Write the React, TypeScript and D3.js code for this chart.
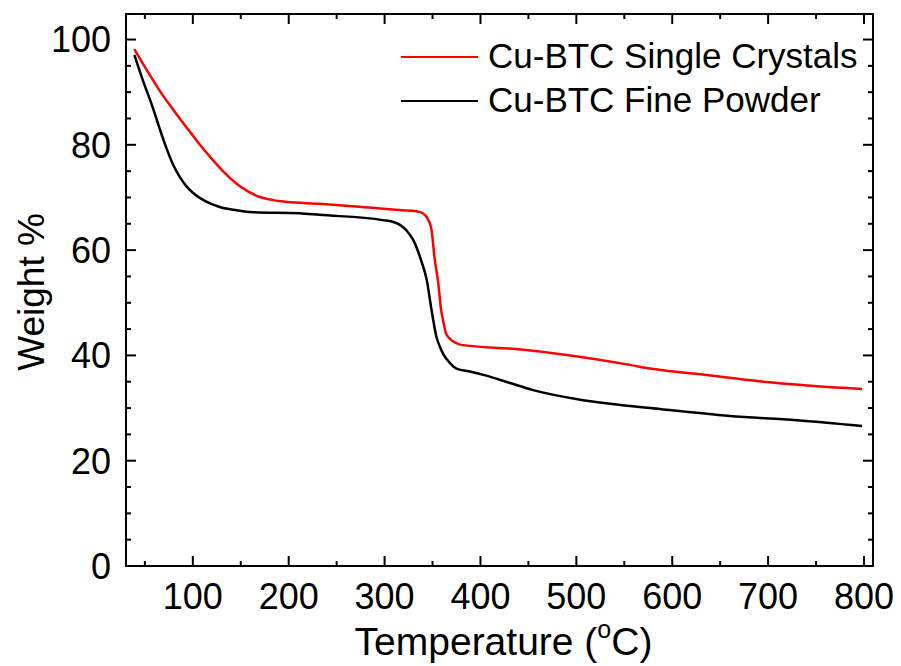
import React from "react";
import * as d3 from "d3";

const crystalT = [39, 52, 65, 79, 93, 107, 121, 133, 145, 157, 170, 184, 197, 232, 270, 316, 333, 339, 342, 346, 349, 352, 356, 359, 361, 364, 368, 374, 380, 437, 490, 556, 577, 625, 695, 798];
const crystalW = [98.2, 94.2, 90.4, 86.8, 83.4, 80.1, 77.1, 74.7, 72.7, 71.2, 70.1, 69.5, 69.2, 68.8, 68.3, 67.6, 67.4, 67.1, 66.7, 65.6, 63.8, 58.7, 53.7, 48.6, 46.7, 44.2, 43.2, 42.4, 42.0, 41.2, 40.1, 38.2, 37.5, 36.5, 35.0, 33.6];

const powderT = [39, 48, 58, 65, 72, 79, 86, 93, 100, 113, 128, 145, 163, 211, 232, 298, 310, 316, 323, 330, 338, 344, 349, 354, 358, 362, 368, 375, 390, 405, 430, 455, 507, 556, 577, 660, 730, 798];
const powderW = [97.1, 92.2, 87.2, 83.3, 79.6, 76.4, 74.0, 72.2, 70.9, 69.3, 68.2, 67.6, 67.2, 67.0, 66.7, 65.7, 65.3, 64.8, 63.7, 61.9, 58.1, 54.3, 48.6, 43.6, 41.5, 40.0, 38.6, 37.5, 36.9, 36.2, 34.8, 33.4, 31.5, 30.4, 30.0, 28.5, 27.7, 26.6];

const seriesNames = ["Cu-BTC Single Crystals", "Cu-BTC Fine Powder"];
const seriesColors = ["#ff0000", "#000000"];

const xMajorTicks = [100, 200, 300, 400, 500, 600, 700, 800];
const xMinorTicks = [50, 150, 250, 350, 450, 550, 650, 750];
const yMajorTicks = [0, 20, 40, 60, 80, 100];
const yMinorTicks = [5, 10, 15, 25, 30, 35, 45, 50, 55, 65, 70, 75, 85, 90, 95];

const W = 901;
const H = 666;
const left = 126;
const right = 873;
const top = 14;
const bottom = 566;
const FONT = "'Liberation Sans', Arial, sans-serif";

export default function App() {
  const x = d3.scaleLinear().domain([30.3, 809.4]).range([left, right]);
  const y = d3.scaleLinear().domain([0, 104.85]).range([bottom, top]);

  const line = d3
    .line<[number, number]>()
    .x((d) => x(d[0]))
    .y((d) => y(d[1]))
    .curve(d3.curveMonotoneX);

  const crystal: [number, number][] = crystalT.map((t, i) => [t, crystalW[i]]);
  const powder: [number, number][] = powderT.map((t, i) => [t, powderW[i]]);

  const majorLen = 10;
  const minorLen = 5;

  return (
    <svg width={W} height={H} style={{ position: "absolute", left: 0, top: 0, background: "#fff" }}>
      <rect x={0} y={0} width={W} height={H} fill="#fff" />
      <path d={line(powder) || ""} fill="none" stroke={seriesColors[1]} strokeWidth={2.5} />
      <path d={line(crystal) || ""} fill="none" stroke={seriesColors[0]} strokeWidth={2.5} />

      <rect x={left} y={top} width={right - left} height={bottom - top} fill="none" stroke="#000" strokeWidth={2} />

      {xMajorTicks.map((t) => (
        <g key={"xM" + t}>
          <line x1={x(t)} x2={x(t)} y1={bottom} y2={bottom - majorLen} stroke="#000" strokeWidth={2} />
          <line x1={x(t)} x2={x(t)} y1={top} y2={top + majorLen} stroke="#000" strokeWidth={2} />
          <text x={x(t)} y={609} textAnchor="middle" fontFamily={FONT} fontSize={36} fill="#000">
            {t}
          </text>
        </g>
      ))}
      {xMinorTicks.map((t) => (
        <g key={"xm" + t}>
          <line x1={x(t)} x2={x(t)} y1={bottom} y2={bottom - minorLen} stroke="#000" strokeWidth={2} />
          <line x1={x(t)} x2={x(t)} y1={top} y2={top + minorLen} stroke="#000" strokeWidth={2} />
        </g>
      ))}

      {yMajorTicks.map((t) => (
        <g key={"yM" + t}>
          <line x1={left} x2={left + majorLen} y1={y(t)} y2={y(t)} stroke="#000" strokeWidth={2} />
          <line x1={right} x2={right - majorLen} y1={y(t)} y2={y(t)} stroke="#000" strokeWidth={2} />
          <text x={111} y={y(t)} dy="0.36em" textAnchor="end" fontFamily={FONT} fontSize={36} fill="#000">
            {t}
          </text>
        </g>
      ))}
      {yMinorTicks.map((t) => (
        <g key={"ym" + t}>
          <line x1={left} x2={left + minorLen} y1={y(t)} y2={y(t)} stroke="#000" strokeWidth={2} />
          <line x1={right} x2={right - minorLen} y1={y(t)} y2={y(t)} stroke="#000" strokeWidth={2} />
        </g>
      ))}

      <text x={(left + right) / 2 + 4} y={655} textAnchor="middle" fontFamily={FONT} fontSize={39} fill="#000">
        Temperature (<tspan fontSize={25} dy={-17}>o</tspan>
        <tspan dy={17}>C)</tspan>
      </text>
      <text
        transform={`translate(44, ${(top + bottom) / 2 + 2}) rotate(-90)`}
        textAnchor="middle"
        fontFamily={FONT}
        fontSize={37}
        fill="#000"
      >
        Weight %
      </text>

      {seriesNames.map((name, i) => (
        <g key={name}>
          <line x1={401} x2={478} y1={57 + i * 44} y2={57 + i * 44} stroke={seriesColors[i]} strokeWidth={2} />
          <text x={488} y={68 + i * 44} fontFamily={FONT} fontSize={35} fill="#000">
            {name}
          </text>
        </g>
      ))}
    </svg>
  );
}
